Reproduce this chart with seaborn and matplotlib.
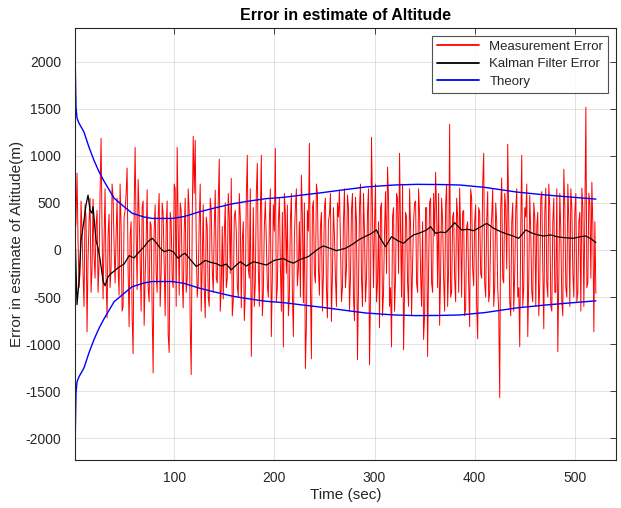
import numpy as np
import pandas as pd
import matplotlib
matplotlib.use("Agg")
import matplotlib.pyplot as plt
import seaborn as sns

# ------------------------------
# DATA
# ------------------------------

# measurement error at odd seconds t = 1, 3, ..., 521
meas_odd = [
    150, 815, -400, 520, -250, 480, -870, 300, -450, 540,
    -300, 420, -150, 1186, -520, 650, -720, 380, -200, 560,
    -350, 550, -480, 250, -600, 420, 870, -815, 300, -1100,
    1090, -420, 380, -650, 520, -300, 640, -550, 260, -1305,
    480, -450, 600, -250, 380, -700, 520, -1090, 300, -400,
    650, 1090, -480, 420, -615, 550, -300, 400, -1324, 1208,
    1165, -500, 300, -650, 480, -720, 250, -600, 420, -450,
    636, -350, 964, -400, -520, 500, -300, 350, 760, -550,
    420, -380, 600, -615, 300, -450, 1006, -300, -1130, 450,
    -350, 920, -600, 1006, -450, 520, -380, 300, -920, 480,
    1080, -400, 550, -650, -1030, 380, 477, -500, 600, -920,
    450, -380, 300, 795, -560, -1260, 420, 1133, -1155, 520,
    -350, 600, -480, 400, -250, 550, -720, 380, -760, 450,
    -300, 500, 636, -550, 300, -400, 583, -650, 420, -500,
    560, -1165, 450, -300, 600, -550, 400, -1218, 1197, -400,
    700, -350, -826, 500, -450, 620, 880, -600, -1030, 450,
    -300, 550, 1027, -500, -1060, 400, -350, 650, -700, 300,
    520, -450, 380, -600, -950, 450, -1130, 500, -350, 600,
    826, -400, -800, 550, -300, 480, -600, 1335, -450, 400,
    -550, 350, 657, -500, 420, -625, 300, -815, 550, -380,
    480, -943, 400, -300, 1027, -500, 620, -450, 350, -600,
    500, -400, -1568, 763, -350, 450, 1123, -550, 300, -650,
    420, -500, -1027, 1006, -400, 350, -920, 580, -450, 500,
    -600, 400, -350, 620, -837, 657, -500, 450, -650, 550,
    -450, -1080, 600, -550, 858, -400, 700, -600, 450, -500,
    600, -450, 400, 657, -600, 1515, -350, 500, 720, -870,
    -460,
]

# measurement error at even seconds t = 2, 4, ..., 520
meas_even = [
    300, 100, -250, 200, -600, 350, -100, 550, -200, -50,
    250, -450, 600, 200, 100, -300, 150, -400, 700, 50,
    150, -200, 700, -650, 350, 600, -200, 150, -700, 400,
    200, 750, -100, 450, -800, 100, -400, 300, -650, 200,
    -250, 350, -600, 500, -150, 250, -900, 400, -300, 700,
    -600, 250, 500, -300, 200, -450, 650, -800, 300, 600,
    100, -350, 700, -150, -400, 350, -500, 550, -200, 250,
    -300, 500, -650, 250, 150, -400, 600, -250, -700, 350,
    200, -500, 350, 100, -750, 550, -200, 650, -300, -600,
    600, -200, 350, -700, 250, 100, -500, 650, -300, 200,
    -550, 300, -150, 400, 600, -250, -700, 300, -450, 150,
    650, -200, -500, 350, 500, -800, 200, -350, 450, -250,
    700, -200, 250, -650, 450, -400, 300, 600, -250, 150,
    -600, 350, 100, -400, 650, -200, 450, -300, 600, -750,
    300, -400, 700, -600, 200, -300, 650, -500, 400, 250,
    -550, 300, 450, -700, 200, -250, 550, -400, 350, -650,
    600, -250, 200, 700, -450, 350, -600, 250, -150, 500,
    -350, 650, -250, 300, -700, 450, -200, 550, -450, 150,
    400, 600, -250, 300, -650, 700, -200, -500, 350, -300,
    550, -450, 200, 400, -700, 250, -350, 650, -200, 300,
    -600, 450, -250, 700, -350, 300, -550, 200, 650, -400,
    300, -650, 450, -300, 600, -200, 350, -700, 500, -250,
    650, -400, 250, -600, 450, 700, -300, 200, -550, 350,
    250, -700, 550, -200, 400, -350, 700, -600, 300, -450,
    650, -300, 200, -700, 450, -500, 300, 650, -250, 400,
    -550, 300, -650, 450, 350, -400, 600, -300, 250, 300,
]

kf_t = [1, 3, 5, 7, 10, 12, 14, 16, 18, 19, 22, 24, 26, 29, 31, 34, 37, 40,
        45, 50, 55, 60, 65, 70, 74, 78, 82, 86, 90, 95, 99, 104, 108, 111,
        116, 122, 126, 131, 136, 142, 147, 152, 157, 162, 166, 172, 179, 185,
        192, 200, 209, 214, 219, 226, 234, 240, 245, 249, 255, 262, 271, 278,
        284, 290, 296, 302, 306, 311, 317, 323, 329, 334, 339, 345, 352, 356,
        361, 366, 371, 376, 380, 387, 393, 399, 405, 412, 419, 426, 432, 438,
        444, 451, 457, 463, 469, 476, 482, 490, 499, 505, 511, 516, 521]
kf_err = [200, -580, -330, 100, 318, 480, 583, 420, 390, 460, 100, 20, -100,
          -330, -380, -285, -250, -225, -180, -150, -60, -85, -20, 35, 90, 124,
          80, 20, -18, 0, -18, -88, -50, -35, -100, -175, -150, -110, -130,
          -145, -170, -150, -210, -160, -125, -170, -125, -140, -160, -110,
          -90, -120, -140, -100, -70, -20, 20, 43, 20, -7, 18, 60, 106, 140,
          170, 212, 120, 35, 141, 100, 71, 120, 160, 180, 212, 247, 177, 190,
          184, 240, 290, 212, 220, 205, 240, 283, 230, 194, 170, 150, 124, 212,
          180, 160, 148, 160, 141, 130, 124, 140, 148, 120, 78]

theory_t = [1, 2, 3, 5, 8, 10, 15, 20, 25, 30, 40, 50, 58, 70, 78, 90, 98,
            110, 125, 140, 158, 175, 192, 210, 225, 245, 270, 292, 320, 342,
            365, 385, 410, 442, 470, 492, 521]
theory_sd = [2100, 1515, 1400, 1345, 1290, 1250, 1090, 950, 830, 730, 550,
             460, 390, 350, 335, 335, 335, 355, 405, 445, 490, 520, 545, 560,
             580, 605, 640, 670, 690, 697, 695, 690, 665, 615, 585, 565, 540]

# interleave odd / even seconds into one 1 s series
meas_t = np.arange(1, 522)
meas_err = np.empty(len(meas_t))
meas_err[0::2] = meas_odd
meas_err[1::2] = meas_even

meas = pd.DataFrame({"t": meas_t, "err": meas_err})
kf = pd.DataFrame({"t": kf_t, "err": kf_err})
th = pd.DataFrame({"t": theory_t, "sd": theory_sd})
th["neg"] = -th["sd"]

# ------------------------------
# PLOT
# ------------------------------

sns.set_theme(style="white")
plt.rcParams["font.family"] = ["Liberation Sans", "DejaVu Sans"]
plt.rcParams["axes.unicode_minus"] = False

fig = plt.figure(figsize=(6.21, 5.08), dpi=100)
ax = fig.add_axes([0.1208, 0.0945, 0.871, 0.850])

sns.lineplot(data=meas, x="t", y="err", color="#ff0000", lw=0.7,
             label="Measurement Error", ax=ax)
sns.lineplot(data=kf, x="t", y="err", color="black", lw=0.9,
             label="Kalman Filter Error", ax=ax)
sns.lineplot(data=th, x="t", y="sd", color="#0000ff", lw=1.0,
             label="Theory", ax=ax)
sns.lineplot(data=th, x="t", y="neg", color="#0000ff", lw=1.0,
             legend=False, ax=ax)

ax.set_xlim(1, 541)
ax.set_ylim(-2230, 2355)
ax.set_xticks([100, 200, 300, 400, 500])
ax.set_yticks(np.arange(-2000, 2001, 500))

ax.grid(True, color="#262626", alpha=0.15, lw=0.6)
ax.set_axisbelow(True)
for s in ax.spines.values():
    s.set_color("#262626")
    s.set_linewidth(0.8)
ax.tick_params(direction="in", length=4, width=0.6, colors="#262626",
               labelsize=10, top=True, right=True,
               labeltop=False, labelright=False)
ax.tick_params(axis="x", pad=8)
ax.tick_params(axis="y", pad=10)

ax.set_title("Error in estimate of Altitude", fontsize=11.5,
             fontweight="bold", color="black", pad=6)
ax.set_xlabel("Time (sec)", fontsize=11, color="#262626", labelpad=2)
ax.set_ylabel("Error in estimate of Altitude(m)", fontsize=11,
              color="#262626", labelpad=1)

leg = ax.legend(loc="upper right", fontsize=9.5, frameon=True, fancybox=False,
                borderaxespad=0.6, handlelength=3.2, labelspacing=0.4,
                borderpad=0.35)
leg.get_frame().set_edgecolor("#262626")
leg.get_frame().set_linewidth(0.8)
for t in leg.get_texts():
    t.set_color("#262626")
for h in leg.get_lines():
    h.set_linewidth(1.3)

fig.savefig("out.png", dpi=100)
